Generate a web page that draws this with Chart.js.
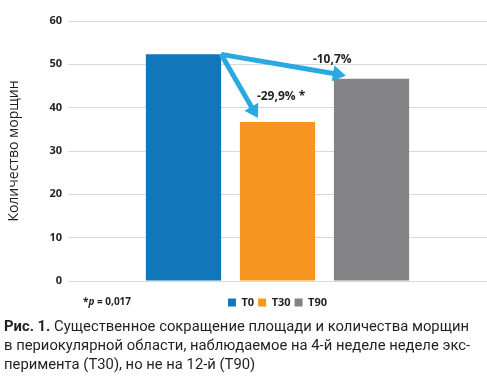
<!DOCTYPE html>
<html><head><meta charset="utf-8">
<script src="https://cdn.jsdelivr.net/npm/chart.js@4"></script>
<style>
body{margin:0;background:#fff;width:487px;height:377px;overflow:hidden;position:relative;}
#c{position:absolute;left:0;top:0;}
#foot{position:absolute;left:83px;top:294px;font:bold 10px "Open Sans",sans-serif;color:#231f20;white-space:nowrap}
#cap{position:absolute;left:4px;top:317px;font-family:Roboto,"Open Sans",sans-serif;font-size:15.5px;line-height:19px;color:#231f20;white-space:nowrap;transform-origin:0 0}
#cap b{font-weight:700}
</style></head><body>
<canvas id="c" width="487" height="324"></canvas>
<div id="foot">*<i>p</i> = 0,017</div>
<div id="cap"><span id="l1"><b>Рис. 1.</b> Существенное сокращение площади и количества морщин</span><br>в периокулярной области, наблюдаемое на 4-й неделе неделе экс-<br>перимента (T30), но не на 12-й (T90)</div>
<script>
const categories = [''];
const seriesNames = ['T0', 'T30', 'T90'];
const seriesValues = [52.3, 36.7, 46.7];
const seriesColors = ['#1276ba', '#f6951f', '#838385'];
const changeLabels = ['-29,9% *', '-10,7%'];
const yAxisTitle = 'Количество морщин';
const yMin = 0, yMax = 60, yStep = 10;

// fit caption first line to the reference width
(function () {
  const cap = document.getElementById('cap');
  const w = document.getElementById('l1').getBoundingClientRect().width;
  cap.style.transform = 'scaleX(' + (465 / w) + ')';
})();

const datasets = seriesNames.map((n, i) => ({
  label: n,
  data: [seriesValues[i]],
  backgroundColor: seriesColors[i],
  borderWidth: 0,
  categoryPercentage: 0.673,
  barPercentage: 0.8
}));

const arrowColor = '#29a9e1';
function drawArrow(ctx, x0, y0, x1, y1) {
  const ang = Math.atan2(y1 - y0, x1 - x0);
  const hl = 13, hw = 8;
  const bx = x1 - hl * Math.cos(ang), by = y1 - hl * Math.sin(ang);
  ctx.save();
  ctx.strokeStyle = arrowColor; ctx.fillStyle = arrowColor;
  ctx.lineWidth = 5; ctx.lineCap = 'butt';
  ctx.beginPath(); ctx.moveTo(x0, y0); ctx.lineTo(bx + 2 * Math.cos(ang), by + 2 * Math.sin(ang)); ctx.stroke();
  ctx.beginPath();
  ctx.moveTo(x1, y1);
  ctx.lineTo(bx + hw * Math.sin(ang), by - hw * Math.cos(ang));
  ctx.lineTo(bx - hw * Math.sin(ang), by + hw * Math.cos(ang));
  ctx.closePath(); ctx.fill();
  ctx.restore();
}

const arrowPlugin = {
  id: 'arrows',
  afterDatasetsDraw(chart) {
    const ctx = chart.ctx;
    const ys = chart.scales.y;
    const b0 = chart.getDatasetMeta(0).data[0];
    const b1 = chart.getDatasetMeta(1).data[0];
    const b2 = chart.getDatasetMeta(2).data[0];
    const sx = b0.x + b0.width / 2, sy = b0.y;
    const t1x = b1.x - b1.width / 2 + 18, t1y = ys.getPixelForValue(seriesValues[1]) - 4;
    const t2x = b2.x - b2.width / 2 + 12, t2y = ys.getPixelForValue(seriesValues[2]) - 3;
    drawArrow(ctx, sx, sy, t1x, t1y);
    drawArrow(ctx, sx, sy, t2x, t2y);
    ctx.save();
    ctx.font = 'bold 12px "Open Sans", sans-serif';
    ctx.fillStyle = '#231f20';
    ctx.textBaseline = 'middle';
    ctx.textAlign = 'left';
    ctx.fillText(changeLabels[0], t1x - 1, t1y - 21);
    ctx.fillText(changeLabels[1], t2x - 33, t2y - 16);
    ctx.restore();
  }
};

new Chart(document.getElementById('c'), {
  type: 'bar',
  data: { labels: categories, datasets },
  options: {
    responsive: false,
    animation: false,
    layout: { padding: { top: 21, right: 0, bottom: 6, left: 0 } },
    plugins: {
      legend: {
        position: 'bottom',
        fullSize: false,
        labels: {
          boxWidth: 8, boxHeight: 8, padding: 4,
          color: '#231f20',
          font: { family: '"Open Sans", sans-serif', size: 11, weight: 'bold' }
        }
      },
      tooltip: { enabled: false }
    },
    scales: {
      x: {
        display: true,
        afterFit(s) { s.height = 12; },
        grid: { display: false },
        border: { display: false },
        ticks: { display: false }
      },
      y: {
        min: yMin, max: yMax,
        afterFit(s) { s.width = 68; },
        border: { display: false },
        grid: { color: '#d9d9d9', lineWidth: 1, drawTicks: false },
        ticks: {
          stepSize: yStep, padding: 6, color: '#231f20',
          font: { family: '"Open Sans", sans-serif', size: 11, weight: 'bold' }
        },
        title: {
          display: true, text: yAxisTitle, color: '#231f20',
          padding: { top: 6, bottom: 0 },
          font: { family: '"Open Sans", sans-serif', size: 14 }
        }
      }
    }
  },
  plugins: [arrowPlugin]
});
</script>
</body></html>
